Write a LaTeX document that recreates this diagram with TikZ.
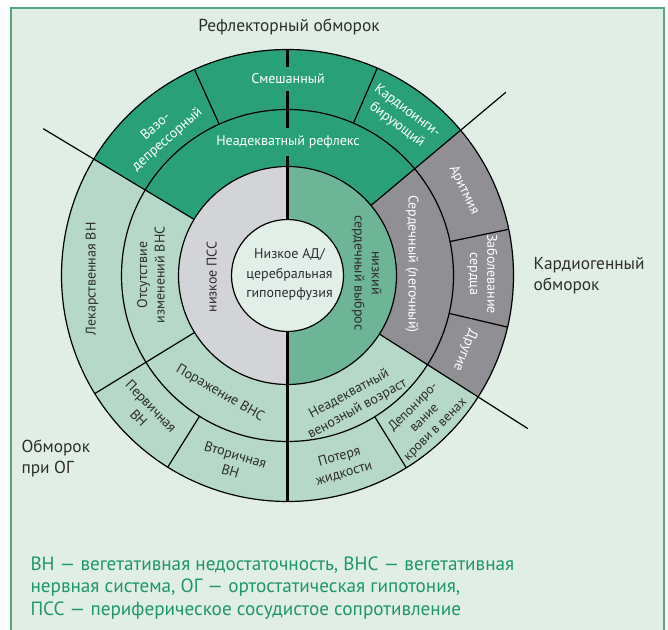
\documentclass[tikz,border=0pt]{standalone}
\usepackage{fontspec}
\setmainfont{PT Sans}

\definecolor{bgmint}{RGB}{225,238,230}
\definecolor{framegreen}{RGB}{80,172,128}
\definecolor{dkgreen}{RGB}{42,160,121}
\definecolor{medgreen}{RGB}{110,180,150}
\definecolor{ltgreen}{RGB}{181,216,200}
\definecolor{cgray}{RGB}{143,143,148}
\definecolor{ltgray}{RGB}{211,212,215}
\definecolor{ctrfill}{RGB}{226,239,232}
\definecolor{footgreen}{RGB}{30,150,102}
\definecolor{txtdark}{RGB}{45,45,45}

\tikzset{every picture/.style={line width=0.75pt}}
\tikzset{
  lbl/.style={font=\fontsize{10.5}{13}\selectfont, text=txtdark, align=center, inner sep=0pt},
  wlbl/.style={lbl, text=white},
  side/.style={font=\fontsize{13}{15.8}\selectfont, text=txtdark, align=left, inner sep=0pt},
  foot/.style={font=\fontsize{14.4}{16.9}\selectfont, text=footgreen, align=left, inner sep=0pt},
  ring/.style={draw=black, line width=0.9pt},
  bar/.style={draw=black, line width=2.8pt}
}

% annular sector: colour, inner r, outer r, from angle, to angle
\newcommand{\ringpart}[5]{%
  \fill[#1] ([shift={(-#4:#2)}]C) arc[start angle=-#4, end angle=-#5, radius=#2]
    -- ([shift={(-#5:#3)}]C) arc[start angle=-#5, end angle=-#4, radius=#3] -- cycle;}

\begin{document}
\begin{tikzpicture}[x=0.75pt,y=0.75pt,yscale=-1,xscale=1]
\useasboundingbox (0,0) rectangle (668,630);
\fill[white] (0,0) rectangle (668,630);

%Shape: Rectangle
\draw[draw=framegreen, fill=bgmint, line width=1.5pt] (11,8.5) rectangle (664,650);

\coordinate (C) at (287.5,275.5);

%Shape: Inner ring
\ringpart{ltgray}{56}{109}{90}{270}
\ringpart{medgreen}{56}{109}{270}{450}
%Shape: Middle ring
\ringpart{dkgreen}{109}{166}{40}{149}
\ringpart{ltgreen}{109}{166}{149}{327.5}
\ringpart{cgray}{109}{166}{327.5}{400}
%Shape: Outer ring
\ringpart{dkgreen}{166}{226}{40}{149}
\ringpart{ltgreen}{166}{226}{149}{327.5}
\ringpart{cgray}{166}{226}{327.5}{400}
%Shape: Circle
\fill[ctrfill] (C) circle[radius=56];

%Shape: Circles
\foreach \r in {56,109,166,226} \draw[ring] (C) circle[radius=\r];

%Straight Lines
\foreach \a in {40,149,327.5} \draw[ring] ([shift={(-\a:109)}]C) -- ([shift={(-\a:285)}]C);
\draw[ring] ([shift={(-211.5:109)}]C) -- ([shift={(-211.5:226)}]C);
\foreach \a in {11.8,66.6,114.3,238,301.7,346.8} \draw[ring] ([shift={(-\a:166)}]C) -- ([shift={(-\a:226)}]C);

%Straight Lines
\draw[bar] ([shift={(0,-226)}]C) -- ([shift={(0,-56)}]C);
\draw[bar] ([shift={(0,56)}]C) -- ([shift={(0,226)}]C);

% Text Node
\draw (289,27) node (refltitle) [side] {Рефлекторный обморок};
% Text Node
\draw (533,275.5) node (cardtitle) [side, anchor=west] {Кардиогенный\\обморок};
% Text Node
\draw (21,458) node (ogtitle) [side, anchor=west] {Обморок\\при ОГ};
% Text Node
\draw (30,588) node (legend) [foot, anchor=west] {ВН — вегетативная недостаточность, ВНС — вегетативная\\нервная система, ОГ — ортостатическая гипотония,\\ПСС — периферическое сосудистое сопротивление};

% Text Node
\draw (288,79) node (mixed) [wlbl, fill=dkgreen, inner ysep=5.5pt, inner xsep=1.5pt] {Смешанный};
% Text Node
\draw (288,142) node (badrefl) [wlbl, fill=dkgreen, inner ysep=5.5pt, inner xsep=1.5pt] {Неадекватный рефлекс};
% Text Node
\draw (161.6,133.2) node (vaso) [wlbl, rotate=41.5] {Вазо-\\депрессорный};
% Text Node
\draw (402,118) node (cardinh) [wlbl, rotate=-37] {Кардиоинги-\\бирующий};
% Text Node
\draw (464,190) node (arrhyth) [wlbl, rotate=-64] {Аритмия};
% Text Node
\draw (482.5,274) node (heartdis) [wlbl, rotate=-90] {Заболевание\\сердца};
% Text Node
\draw (465,350) node (others) [wlbl, rotate=-112] {Другие};
% Text Node
\draw (412,264) node (cardpulm) [wlbl, rotate=-90] {Сердечный (легочный)};
% Text Node
\draw (366.7,273) node (lowout) [lbl, rotate=-90] {низкий\\сердечный выброс};
% Text Node
\draw (211.7,277) node (lowres) [lbl, rotate=90] {низкое ПСС};
% Text Node
\draw (289.5,274.5) node (lowbp) [lbl, font=\fontsize{10.5}{14.4}\selectfont] {Низкое АД/\\церебральная\\гипоперфузия};
% Text Node
\draw (151,275) node (noans) [lbl, rotate=90] {Отсутствие\\изменений ВНС};
% Text Node
\draw (92,279) node (drugaf) [lbl, rotate=90] {Лекарственная ВН};
% Text Node
\draw (220,393.3) node (ansdmg) [lbl, rotate=-30] {Поражение ВНС};
% Text Node
\draw (145,412) node (primaf) [lbl, rotate=-46] {Первичная\\ВН};
% Text Node
\draw (233,463) node (secaf) [lbl, rotate=-17] {Вторичная\\ВН};
% Text Node
\draw (353.3,401.7) node (venret) [lbl, rotate=28.5] {Неадекватный\\венозный возраст};
% Text Node
\draw (341.7,465) node (fluid) [lbl, rotate=15.8] {Потеря\\жидкости};
% Text Node
\draw (424.5,418.5) node (pooling) [lbl, rotate=44.6, font=\fontsize{10}{11.8}\selectfont] {Депониро-\\вание\\крови в венах};

\end{tikzpicture}
\end{document}
